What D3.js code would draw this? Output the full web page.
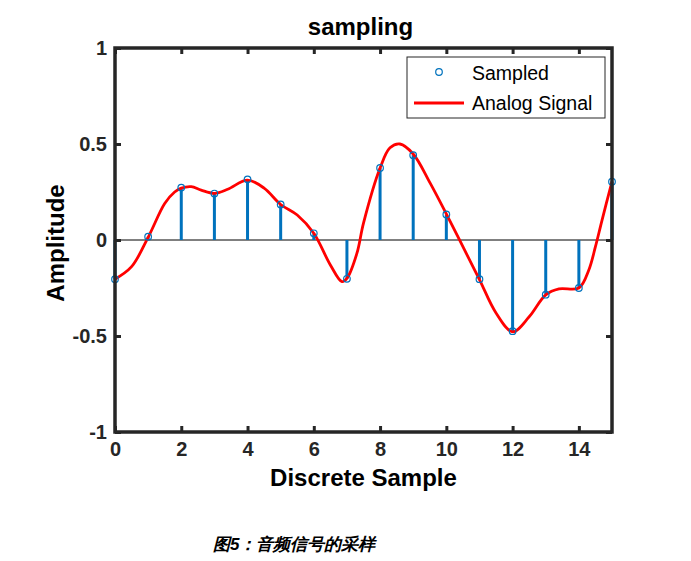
<!DOCTYPE html>
<html>
<head>
<meta charset="utf-8">
<script src="https://cdn.jsdelivr.net/npm/d3@7"></script>
<style>
body { margin:0; padding:0; background:#fff; }
text { font-family: "Liberation Sans", Arial, sans-serif; }
</style>
</head>
<body>
<svg id="chart" width="691" height="561"></svg>
<script>
// sampled points (n = 0..15)
var sampleX = [0,1,2,3,4,5,6,7,8,9,10,11,12,13,14,15];
var sampleY = [-0.204,0.017,0.273,0.242,0.316,0.185,0.035,-0.202,0.375,0.442,0.133,-0.204,-0.475,-0.285,-0.25,0.304];

// analog signal
var analogX = [0,0.5,1,1.5,1.8,2,2.3,2.6,3,3.4,4,4.5,5,5.5,6,6.5,6.85,7,7.3,7.5,8,8.3,8.6,9,9.5,10,10.5,11,11.5,12,12.5,13,13.4,14,14.3,14.5,14.7,15];
var analogY = [-0.204,-0.139,0.014,0.19,0.25,0.27,0.278,0.26,0.243,0.264,0.312,0.27,0.185,0.13,0.035,-0.13,-0.217,-0.2,-0.07,0.088,0.375,0.48,0.5,0.448,0.30,0.136,-0.035,-0.206,-0.38,-0.478,-0.40,-0.286,-0.255,-0.25,-0.156,-0.035,0.104,0.304];

var xTicks = [0,2,4,6,8,10,12,14];
var yTicks = [-1,-0.5,0,0.5,1];

var svg = d3.select("#chart");
var L = 115, R = 612, T = 48, B = 432;

var x = d3.scaleLinear().domain([0,15]).range([L,R]);
var y = d3.scaleLinear().domain([-1,1]).range([B,T]);

// zero line
svg.append("line")
  .attr("x1", L).attr("x2", R)
  .attr("y1", y(0)).attr("y2", y(0))
  .attr("stroke", "#000").attr("stroke-width", 1);

// stems
svg.selectAll("line.stem")
  .data(sampleX)
  .enter()
  .append("line")
  .attr("class","stem")
  .attr("x1", function(d){ return x(d); })
  .attr("x2", function(d){ return x(d); })
  .attr("y1", y(0))
  .attr("y2", function(d,i){ return y(sampleY[i]); })
  .attr("stroke", "#0072BD")
  .attr("stroke-width", 3);

// analog line
var pts = analogX.map(function(d,i){ return [d, analogY[i]]; });
svg.append("path")
  .datum(pts)
  .attr("fill","none")
  .attr("stroke","#FF0000")
  .attr("stroke-width", 2.8)
  .attr("d", d3.line()
    .x(function(d){ return x(d[0]); })
    .y(function(d){ return y(d[1]); })
    .curve(d3.curveCatmullRom.alpha(0.5)));

// circles
svg.selectAll("circle.samp")
  .data(sampleX)
  .enter()
  .append("circle")
  .attr("class","samp")
  .attr("cx", function(d){ return x(d); })
  .attr("cy", function(d,i){ return y(sampleY[i]); })
  .attr("r", 3.3)
  .attr("fill","none")
  .attr("stroke","#0072BD")
  .attr("stroke-width", 1.2);

// axes (ticks inward)
var axB = svg.append("g").attr("transform","translate(0,"+B+")")
  .call(d3.axisBottom(x).tickValues(xTicks).tickSize(-6).tickPadding(10).tickFormat(function(d){ return String(d); }));
var axT = svg.append("g").attr("transform","translate(0,"+T+")")
  .call(d3.axisTop(x).tickValues(xTicks).tickSize(-6).tickFormat(""));
var axL = svg.append("g").attr("transform","translate("+L+",0)")
  .call(d3.axisLeft(y).tickValues(yTicks).tickSize(-6).tickPadding(8).tickFormat(function(d){ return String(d); }));
var axR = svg.append("g").attr("transform","translate("+R+",0)")
  .call(d3.axisRight(y).tickValues(yTicks).tickSize(-6).tickFormat(""));

[axB, axT, axL, axR].forEach(function(g){
  g.select(".domain").remove();
  g.selectAll(".tick line").attr("stroke","#262626").attr("stroke-width",3);
  g.selectAll(".tick text")
    .attr("font-family","Liberation Sans, Arial, sans-serif")
    .attr("font-size","20px")
    .attr("font-weight","bold")
    .attr("fill","#262626");
});

// frame
svg.append("rect")
  .attr("x", L).attr("y", T)
  .attr("width", R-L).attr("height", B-T)
  .attr("fill","none")
  .attr("stroke","#262626")
  .attr("stroke-width", 3.5);

// title and labels
svg.append("text")
  .attr("x", (L+R)/2 - 3).attr("y", 35)
  .attr("text-anchor","middle")
  .attr("font-size","24px").attr("font-weight","bold")
  .attr("fill","#000")
  .text("sampling");

svg.append("text")
  .attr("x", (L+R)/2).attr("y", 486)
  .attr("text-anchor","middle")
  .attr("font-size","24px").attr("font-weight","bold")
  .attr("fill","#000")
  .text("Discrete Sample");

svg.append("text")
  .attr("transform","translate(64,"+((T+B)/2+3)+") rotate(-90)")
  .attr("text-anchor","middle")
  .attr("font-size","24px").attr("font-weight","bold")
  .attr("fill","#000")
  .text("Amplitude");

// legend
var lg = svg.append("g");
lg.append("rect")
  .attr("x", 407).attr("y", 57)
  .attr("width", 198).attr("height", 61)
  .attr("fill","#fff")
  .attr("stroke","#262626").attr("stroke-width", 1);
lg.append("circle")
  .attr("cx", 439).attr("cy", 72).attr("r", 3.3)
  .attr("fill","none").attr("stroke","#0072BD").attr("stroke-width",1.2);
lg.append("text")
  .attr("x", 472).attr("y", 80)
  .attr("font-size","19.5px").attr("fill","#000")
  .text("Sampled");
lg.append("line")
  .attr("x1", 414).attr("x2", 464)
  .attr("y1", 103).attr("y2", 103)
  .attr("stroke","#FF0000").attr("stroke-width", 2.8);
lg.append("text")
  .attr("x", 472).attr("y", 110)
  .attr("font-size","19.5px").attr("fill","#000")
  .text("Analog Signal");

// caption
svg.append("text")
  .attr("x", 213).attr("y", 550)
  .attr("font-family","Noto Sans CJK SC, sans-serif")
  .attr("font-size","17px").attr("font-weight","bold")
  .attr("font-style","italic")
  .attr("fill","#000")
  .text("图5：音频信号的采样");
</script>
</body>
</html>
